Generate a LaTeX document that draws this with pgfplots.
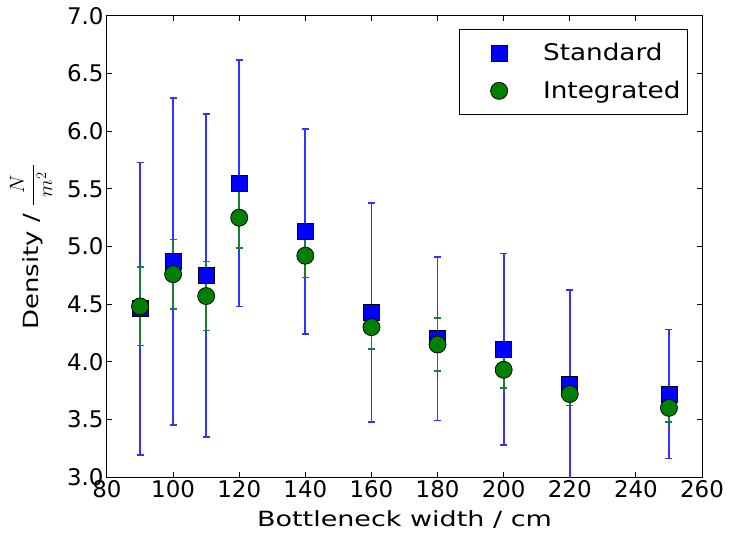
\documentclass[border=0pt]{standalone}
\usepackage{fontspec}
\setmainfont{DejaVu Sans}
\newfontfamily\labelfont[FakeStretch=1.29]{DejaVu Sans}
\newfontfamily\ylabelfont[FakeStretch=1.24]{DejaVu Sans}
\newfontfamily\legendfont[FakeStretch=1.145]{DejaVu Sans}
\usepackage{pgfplots}
\pgfplotsset{compat=1.18}
\usepackage{pgfplotstable}

% Mean density and spread for each bottleneck width
\pgfplotstableread{
x   y    e
90  4.46 1.27
100 4.87 1.42
110 4.75 1.40
120 5.55 1.07
140 5.13 0.89
160 4.43 0.95
180 4.20 0.71
200 4.11 0.83
220 3.80 0.82
250 3.72 0.56
}\standard

\pgfplotstableread{
x   y    e
90  4.48 0.34
100 4.76 0.30
110 4.57 0.30
120 5.25 0.26
140 4.92 0.19
160 4.30 0.19
180 4.15 0.23
200 3.93 0.16
220 3.72 0.10
250 3.60 0.12
}\integrated

\definecolor{mplblue}{rgb}{0,0,1}
\definecolor{mplgreen}{rgb}{0,0.5,0}
\definecolor{barblue}{rgb}{0.2,0.2,1}
\definecolor{bargreen}{rgb}{0.1,0.5,0.2}

\pgfplotsset{
  markerlegend/.style={
    legend image code/.code={%
      \path[draw=none] (0bp,0bp) -- (77bp,0bp);
      \path[##1, draw=none] plot[only marks] coordinates {(35bp,0bp)};}},
  errbars/.style={
    forget plot, only marks, mark=none, color=#1,
    error bars/.cd, y dir=both, y explicit,
    error bar style={color=#1, line width=1.7bp},
    error mark options={rotate=90, mark size=3.5bp, color=#1, line width=1.7bp}},
}

\begin{document}
\begin{tikzpicture}
\useasboundingbox (-107bp,-60bp) rectangle (623bp,477bp);
\begin{axis}[
  at={(0,0)}, anchor=south west,
  scale only axis,
  width=595bp, height=461bp,
  xmin=80, xmax=260, ymin=3, ymax=7,
  xtick={80,100,...,260},
  ytick={3,3.5,...,7},
  /pgf/number format/assume math mode=true,
  yticklabel style={/pgf/number format/.cd, fixed, zerofill, precision=1},
  xticklabel style={/pgf/number format/.cd, fixed, precision=0},
  tick label style={font=\fontsize{23}{28}\selectfont},
  xlabel style={font=\labelfont\fontsize{21}{26}\selectfont},
  ylabel style={font=\ylabelfont\fontsize{21}{26}\selectfont},
  xlabel={Bottleneck width / cm},
  ylabel={Density / $\displaystyle\frac{N}{\hspace{0.35em}m^2\hspace{0.35em}}$},
  xlabel shift=6bp,
  ylabel shift=8bp,
  tick align=inside,
  major tick length=5bp,
  axis line style={black, line width=1bp},
  every tick/.style={black, line width=1bp},
  legend style={at={(1,1)}, anchor=north east, xshift=-14bp, yshift=-13bp,
    draw=black, line width=1bp, inner xsep=5bp, inner ysep=12bp,
    row sep=15bp,
    font=\legendfont\fontsize{23}{28}\selectfont, cells={anchor=west}},
]
\addplot[errbars=barblue] table[x=x, y=y, y error=e] {\standard};
\addplot[only marks, markerlegend, mark=square*, mark size=8bp,
  mark options={draw=black, fill=mplblue, line width=0.8bp}]
  table[x=x, y=y] {\standard};
\addlegendentry{Standard}
\addplot[errbars=bargreen] table[x=x, y=y, y error=e] {\integrated};
\addplot[only marks, markerlegend, mark=*, mark size=8.5bp,
  mark options={draw=black, fill=mplgreen, line width=0.8bp}]
  table[x=x, y=y] {\integrated};
\addlegendentry{Integrated}
\end{axis}
\end{tikzpicture}
\end{document}
